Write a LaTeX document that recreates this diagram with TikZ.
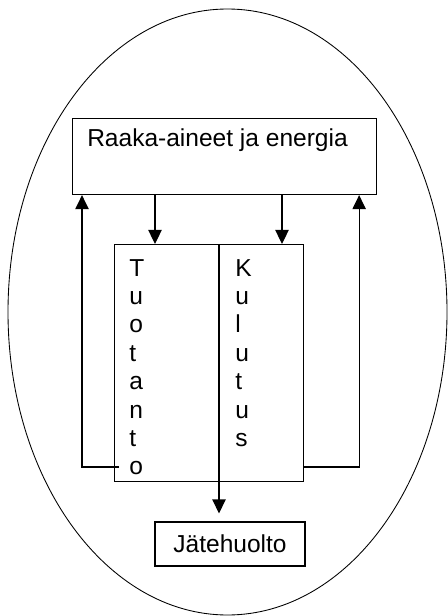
\documentclass[tikz,border=0pt]{standalone}
\usepackage{fontspec}
\setmainfont{Liberation Sans}
\usetikzlibrary{arrows.meta,calc}
\begin{document}
\begin{tikzpicture}[x=0.75pt,y=-0.75pt,
  box/.style={draw, line width=0.85pt, rectangle, inner sep=0pt},
  flow/.style={line width=0.85pt, -{Triangle[width=10pt,length=10.5pt]}},
  lbl/.style={font=\fontsize{18.4pt}{21.3pt}\selectfont, inner sep=0pt},
  vert/.style={lbl, align=left, anchor=north west}]
% page
\fill[white] (0,0) rectangle (448,616);
\useasboundingbox (0,0) rectangle (448,616);
% system boundary
\draw[line width=0.65pt] (227.5,312) ellipse (219.5 and 303);
% raw materials and energy
\node[box, anchor=north west, minimum width=228pt, minimum height=57pt] (raw) at (72,118) {};
\node[lbl, anchor=base west] (rawtext) at (87,147) {Raaka-aineet ja energia};
% production / consumption block
\node[box, anchor=north west, minimum width=141.75pt, minimum height=177.75pt] (core) at (114,244) {};
\coordinate (divtop) at (219,244);
\coordinate (divbot) at (219,481);
\node[vert] (tuo) at (129,259) {T\\u\\o\\t\\a\\n\\t\\o};
\node[vert] (kul) at (235,259) {K\\u\\l\\u\\t\\u\\s};
% waste management
\node[box, lbl, minimum width=112.5pt, minimum height=33pt] (jate) at (230,544) {Jätehuolto};
% inputs into the block
\coordinate (inT) at (155,244);
\coordinate (inK) at (282,244);
\draw[flow] (raw.south -| inT) -- (inT);
\draw[flow] (raw.south -| inK) -- (inK);
% recycling loops
\coordinate (lstart) at (119,467);
\draw[flow] (lstart) -| ($(raw.south west)+(10,0)$);
\draw[flow] (core.east |- lstart) -| ($(raw.south east)+(-18,0)$);
% divider continuing to waste management
\draw[flow, shorten >=6pt] (divtop) -- (jate.north -| divtop);
\end{tikzpicture}
\end{document}
